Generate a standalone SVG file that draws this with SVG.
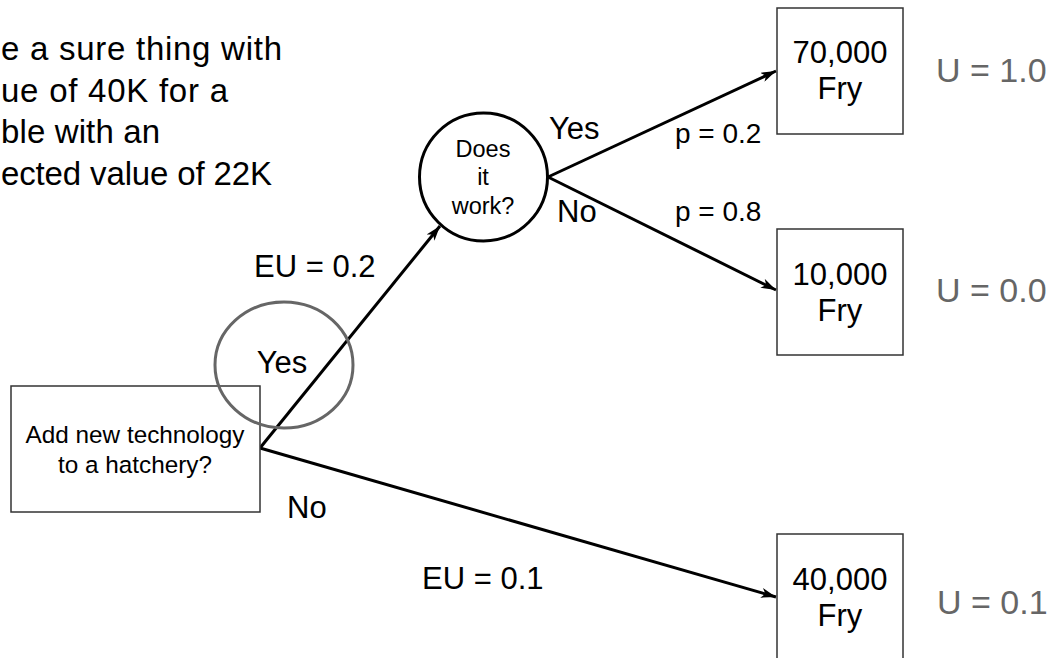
<svg xmlns="http://www.w3.org/2000/svg" width="1058" height="658" viewBox="0 0 1058 658">
<defs>
<style>
text{font-family:"Liberation Sans",Arial,sans-serif;fill:#000}
.box{fill:#fff;stroke:#333;stroke-width:1.5}
.edge{stroke:#000;stroke-width:3;fill:none;marker-end:url(#arr)}
.lbl{font-size:31px}
.note{font-size:33px}
.u{font-size:34px;fill:#666}
.node{font-size:31px;text-anchor:middle}
.q{font-size:23.5px;text-anchor:middle}
.p{font-size:28px}
</style>
<marker id="arr" markerUnits="userSpaceOnUse" markerWidth="16" markerHeight="10" refX="15" refY="5" orient="auto">
<path d="M0,0 L15,5 L0,10 L4,5 z" fill="#000"/>
</marker>
</defs>
<rect width="1058" height="658" fill="#fff"/>

<g id="note">
<text class="note" x="1" y="60" textLength="281" lengthAdjust="spacing">e a sure thing with</text>
<text class="note" x="1" y="102" textLength="227" lengthAdjust="spacing">ue of 40K for a</text>
<text class="note" x="1" y="143" textLength="159" lengthAdjust="spacing">ble with an</text>
<text class="note" x="1" y="185" textLength="271" lengthAdjust="spacing">ected value of 22K</text>
</g>

<g id="connectors">
<line class="edge" x1="260" y1="448" x2="440" y2="226"/>
<line class="edge" x1="260" y1="448" x2="776" y2="597"/>
<line class="edge" x1="548" y1="177" x2="776" y2="71"/>
<line class="edge" x1="548" y1="177" x2="776" y2="290"/>
</g>

<g id="decision">
<rect class="box" x="11" y="386" width="249" height="126"/>
<text x="135" y="443" font-size="24.3" text-anchor="middle">Add new technology</text>
<text x="135" y="473" font-size="24.3" text-anchor="middle">to a hatchery?</text>
</g>

<g id="yes-highlight">
<ellipse cx="284" cy="365" rx="69" ry="63" fill="none" stroke="#666" stroke-width="3"/>
<text class="lbl" x="282" y="373" text-anchor="middle">Yes</text>
</g>

<g id="chance">
<circle cx="483.5" cy="177" r="64" fill="#fff" stroke="#000" stroke-width="3"/>
<text class="q" x="483" y="157">Does</text>
<text class="q" x="483" y="185">it</text>
<text class="q" x="483" y="214">work?</text>
</g>

<g id="out70">
<rect class="box" x="777" y="8" width="126" height="126"/>
<text class="node" x="840" y="63">70,000</text>
<text class="node" x="840" y="99">Fry</text>
<text class="u" x="936" y="82">U = 1.0</text>
</g>

<g id="out10">
<rect class="box" x="777" y="229" width="126" height="126"/>
<text class="node" x="840" y="285">10,000</text>
<text class="node" x="840" y="321">Fry</text>
<text class="u" x="936" y="302">U = 0.0</text>
</g>

<g id="out40">
<rect class="box" x="777" y="534" width="126" height="140"/>
<text class="node" x="840" y="590">40,000</text>
<text class="node" x="840" y="626">Fry</text>
<text class="u" x="937" y="614">U = 0.1</text>
</g>

<g id="labels">
<text class="lbl" x="549" y="139">Yes</text>
<text class="lbl" x="557" y="222">No</text>
<text class="p" x="675" y="143">p = 0.2</text>
<text class="p" x="675" y="221">p = 0.8</text>
<text class="lbl" x="254" y="277">EU = 0.2</text>
<text class="lbl" x="287" y="518">No</text>
<text class="lbl" x="422" y="589">EU = 0.1</text>
</g>
</svg>
